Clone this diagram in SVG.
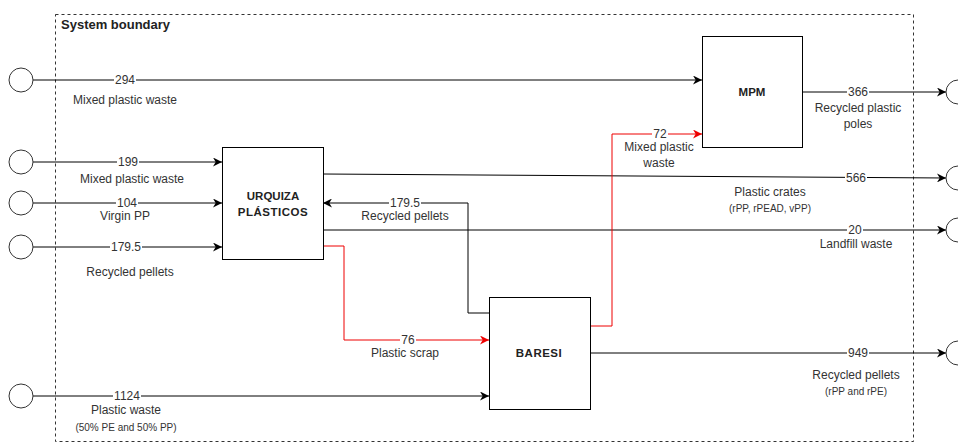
<svg xmlns="http://www.w3.org/2000/svg" width="958" height="445" viewBox="0 0 958 445">
<style>
text{font-family:"Liberation Sans",Arial,sans-serif;font-size:12px;fill:#333;text-anchor:middle}
.t{dominant-baseline:central}
.s{font-size:10px}
.b{font-weight:bold;font-size:11.5px;fill:#222}
.h{font-weight:bold;font-size:13px;fill:#222;text-anchor:start}
.e{fill:none;stroke:#000;stroke-width:1}
.r{fill:none;stroke:#e00;stroke-width:1}
.n{fill:#fff;stroke:#000;stroke-width:1}
.c{fill:#fff;stroke:#333;stroke-width:1}
.bg{fill:#fff}
</style>
<defs>
<marker id="a" viewBox="0 0 10 10" refX="10" refY="5" markerWidth="9" markerHeight="9" markerUnits="userSpaceOnUse" orient="auto"><path d="M0,0 L10,5 L0,10 L3,5 Z" fill="#000"/></marker>
<marker id="ar" viewBox="0 0 10 10" refX="10" refY="5" markerWidth="9" markerHeight="9" markerUnits="userSpaceOnUse" orient="auto"><path d="M0,0 L10,5 L0,10 L3,5 Z" fill="#e00"/></marker>
</defs>
<rect x="55.5" y="14.5" width="858" height="427" fill="none" stroke="#333" stroke-dasharray="3,3"/>
<text x="61" y="24" class="t h">System boundary</text>
<g id="connectors">
<path class="e" d="M33,80 H702" marker-end="url(#a)"/>
<path class="e" d="M33,162 H222" marker-end="url(#a)"/>
<path class="e" d="M33,203 H222" marker-end="url(#a)"/>
<path class="e" d="M33,247 H222" marker-end="url(#a)"/>
<path class="e" d="M33,396 H489" marker-end="url(#a)"/>
<path class="e" d="M802,92 H946" marker-end="url(#a)"/>
<path class="e" d="M323,174 L946,178" marker-end="url(#a)"/>
<path class="e" d="M323,230 H946" marker-end="url(#a)"/>
<path class="e" d="M590,353 H946" marker-end="url(#a)"/>
<path class="e" d="M489,313 H468 V203 H323" marker-end="url(#a)"/>
<path class="r" d="M323,246 H344 V340 H489" marker-end="url(#ar)"/>
<path class="r" d="M590,326 H612 V134 H702" marker-end="url(#ar)"/>
<rect class="bg" x="114" y="74" width="22" height="12"/><text x="125" y="80" class="t">294</text>
<text x="125" y="100" class="t">Mixed plastic waste</text>
<rect class="bg" x="117" y="156" width="22" height="12"/><text x="128" y="162" class="t">199</text>
<text x="132" y="179" class="t">Mixed plastic waste</text>
<rect class="bg" x="116" y="197" width="22" height="12"/><text x="127" y="203" class="t">104</text>
<text x="125" y="216" class="t">Virgin PP</text>
<rect class="bg" x="110" y="241" width="32" height="12"/><text x="126" y="247" class="t">179.5</text>
<text x="130" y="272" class="t">Recycled pellets</text>
<rect class="bg" x="113" y="390" width="28" height="12"/><text x="127" y="396" class="t">1124</text>
<text x="126" y="410" class="t">Plastic waste</text>
<text x="126" y="427" class="t s">(50% PE and 50% PP)</text>
<rect class="bg" x="389" y="197" width="32" height="12"/><text x="405" y="203" class="t">179.5</text>
<text x="405" y="216" class="t">Recycled pellets</text>
<rect class="bg" x="400" y="334" width="16" height="12"/><text x="408" y="340" class="t">76</text>
<text x="405" y="353" class="t">Plastic scrap</text>
<rect class="bg" x="652" y="128" width="16" height="12"/><text x="660" y="134" class="t">72</text>
<text x="659" y="147" class="t">Mixed plastic</text>
<text x="659" y="163" class="t">waste</text>
<rect class="bg" x="847" y="86" width="22" height="12"/><text x="858" y="92" class="t">366</text>
<text x="858" y="108" class="t">Recycled plastic</text>
<text x="858" y="124" class="t">poles</text>
<rect class="bg" x="845" y="172" width="22" height="12"/><text x="856" y="178" class="t">566</text>
<text x="770" y="192" class="t">Plastic crates</text>
<text x="770" y="208" class="t s">(rPP, rPEAD, vPP)</text>
<rect class="bg" x="847" y="224" width="16" height="12"/><text x="855" y="230" class="t">20</text>
<text x="856" y="244" class="t">Landfill waste</text>
<rect class="bg" x="847" y="347" width="22" height="12"/><text x="858" y="353" class="t">949</text>
<text x="856" y="375" class="t">Recycled pellets</text>
<text x="856" y="391" class="t s">(rPP and rPE)</text>
</g>
<g id="src-294"><circle class="c" cx="21" cy="80" r="12"/></g>
<g id="src-199"><circle class="c" cx="21" cy="162" r="12"/></g>
<g id="src-104"><circle class="c" cx="21" cy="203" r="12"/></g>
<g id="src-1795"><circle class="c" cx="21" cy="247" r="12"/></g>
<g id="src-1124"><circle class="c" cx="21" cy="396" r="12"/></g>
<g id="sink-366"><circle class="c" cx="958" cy="92" r="12"/></g>
<g id="sink-566"><circle class="c" cx="958" cy="178" r="12"/></g>
<g id="sink-20"><circle class="c" cx="958" cy="230" r="12"/></g>
<g id="sink-949"><circle class="c" cx="958" cy="353" r="12"/></g>
<g id="mpm"><rect class="n" x="702.5" y="36.5" width="100" height="111"/><text x="752" y="92" class="t b">MPM</text></g>
<g id="urquiza"><rect class="n" x="222.5" y="147.5" width="101" height="112"/><text x="273" y="196" class="t b">URQUIZA</text><text x="273" y="212" class="t b" style="letter-spacing:0.5px">PLÁSTICOS</text></g>
<g id="baresi"><rect class="n" x="489.5" y="297.5" width="101" height="112"/><text x="539" y="353" class="t b" style="letter-spacing:0.5px">BARESI</text></g>
</svg>
